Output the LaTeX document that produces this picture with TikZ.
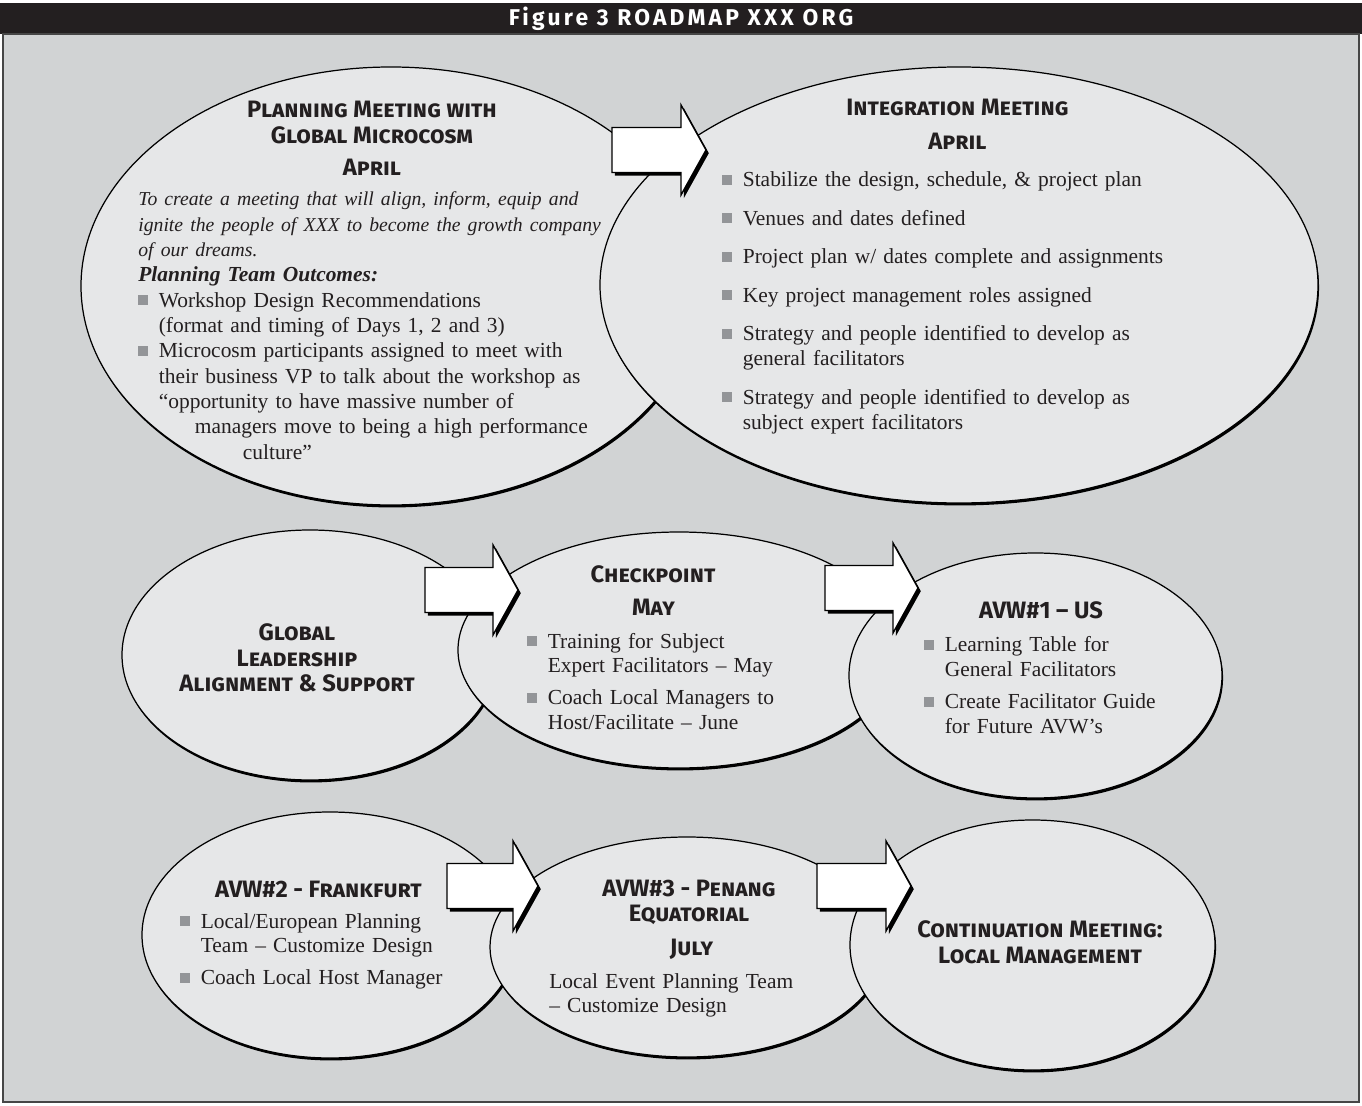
\documentclass[tikz,border=0pt]{standalone}
\usepackage{fontspec}
\setmainfont{Liberation Serif}
\newfontfamily\hdfont[Ligatures=TeX]{Fira Sans}
\usepackage{tikz}
\usetikzlibrary{shapes.geometric, shadows, calc}

\definecolor{panelgray}{HTML}{D1D3D4}
\definecolor{bubblefill}{HTML}{E6E7E8}
\definecolor{barblack}{HTML}{231F20}
\definecolor{bulgray}{HTML}{939598}
\definecolor{inkgray}{HTML}{231F20}

% square bullet and hanging item
\newcommand{\sq}{\textcolor{bulgray}{\rule[0.04cm]{0.2cm}{0.2cm}}}
\newcommand{\bitem}[1]{\noindent\hangindent=0.41cm\hangafter=1\makebox[0.41cm][l]{\sq}#1\par}

\begin{document}
\begin{tikzpicture}[
  bubble/.style = {ellipse, draw=black, line width=0.7pt, fill=bubblefill, inner sep=0pt,
                   drop shadow={shadow xshift=0.6pt, shadow yshift=-1.4pt, fill=black, opacity=1}},
  hd/.style     = {font=\hdfont\bfseries\scshape\fontsize{13.5}{14.6}\selectfont, text=inkgray, align=center, inner sep=0pt},
  body/.style   = {font=\fontsize{12.2}{14.2}\selectfont, text=inkgray, anchor=base west, inner sep=0pt, text width=11cm, align=left},
  blockarr/.style = {fill=white, draw=black, line width=0.8pt,
                   drop shadow={shadow xshift=1.6pt, shadow yshift=-1.8pt, fill=black, opacity=1}},
]
% block arrow: #1 tail coordinate, #2 tip coordinate
\newcommand{\blockarrow}[2]{%
  \path[blockarr] let \p1=(#1), \p2=(#2) in
    (\x1,\y1+0.45cm) -- (\x2-0.5cm,\y1+0.45cm) -- (\x2-0.5cm,\y1+0.9cm) -- (\x2,\y1)
    -- (\x2-0.5cm,\y1-0.9cm) -- (\x2-0.5cm,\y1-0.45cm) -- (\x1,\y1-0.45cm) -- cycle;}
\useasboundingbox (0,0) rectangle (27.24,-22.12);
\fill[white] (0,0) rectangle (27.24,-22.12);
\fill[barblack] (0,-0.06) rectangle (27.24,-0.68);
\draw[gray!55!black, line width=0.6pt, fill=panelgray] (0.06,-0.68) rectangle (27.18,-22.04);
\node[font=\hdfont\bfseries\fontsize{13}{14}\selectfont\addfontfeature{LetterSpace=14}, text=white] (title) at (13.62,-0.37) {Figure 3 ROADMAP XXX ORG};

% top row
\node[bubble, minimum width=12.4cm, minimum height=8.76cm] (plan) at (7.82,-5.72) {};
\node[hd] (planHd) at (7.44,-2.45) {Planning Meeting with\\Global Microcosm};
\node[hd] (planMon) at (7.44,-3.35) {April};
\node[body, font=\fontsize{12.2}{14.4}\selectfont] (planTxt) at (2.76,-4.12) {%
  {\itshape\fontsize{11.2}{14.4}\selectfont To create a meeting that will align, inform, equip and\newline
   ignite the people of XXX to become the growth company\newline
   of our dreams.\par}
  {\bfseries\itshape Planning Team Outcomes:\par}
  \bitem{Workshop Design Recommendations\newline (format and timing of Days 1, 2 and 3)}
  \bitem{Microcosm participants assigned to meet with\newline
    their business VP to talk about the workshop as\newline
    “opportunity to have massive number of\newline
    \hspace*{0.72cm}managers move to being a high performance\newline
    \hspace*{1.68cm}culture”}};

\node[bubble, minimum width=14.36cm, minimum height=8.72cm] (integ) at (19.18,-5.7) {};
\node[hd] (integHd) at (19.15,-2.15) {Integration Meeting};
\node[hd] (integMon) at (19.15,-2.83) {April};
\node[body] (integTxt) at (14.44,-3.74) {%
  \bitem{Stabilize the design, schedule, \& project plan}\vspace{0.27cm}
  \bitem{Venues and dates defined}\vspace{0.27cm}
  \bitem{Project plan w/ dates complete and assignments}\vspace{0.27cm}
  \bitem{Key project management roles assigned}\vspace{0.27cm}
  \bitem{Strategy and people identified to develop as\newline general facilitators}\vspace{0.27cm}
  \bitem{Strategy and people identified to develop as\newline subject expert facilitators}};

\coordinate (a1s) at (12.24,-3.0);
\coordinate (a1e) at (14.12,-3.0);
\blockarrow{a1s}{a1e}

% middle row
\node[bubble, minimum width=7.52cm, minimum height=5.0cm] (glob) at (6.2,-13.1) {};
\node[hd] (globHd) at (5.94,-13.16) {Global\\Leadership\\Alignment \& Support};

\node[bubble, minimum width=8.84cm, minimum height=4.72cm] (check) at (13.58,-13.0) {};
\node[hd] (checkHd) at (13.06,-11.48) {Checkpoint};
\node[hd] (checkMon) at (13.07,-12.15) {May};
\node[body] (checkTxt) at (10.54,-12.96) {%
  \bitem{Training for Subject\newline Expert Facilitators -- May}\vspace{0.14cm}
  \bitem{Coach Local Managers to\newline Host/Facilitate -- June}};

\node[bubble, minimum width=7.46cm, minimum height=4.9cm] (avwUS) at (20.71,-13.51) {};
\node[hd] (avwUSHd) at (20.82,-12.21) {AVW\#1 -- US};
\node[body] (avwUSTxt) at (18.48,-13.04) {%
  \bitem{Learning Table for\newline General Facilitators}\vspace{0.14cm}
  \bitem{Create Facilitator Guide\newline for Future AVW's}};

\coordinate (a2s) at (8.5,-11.8);
\coordinate (a2e) at (10.36,-11.8);
\blockarrow{a2s}{a2e}
\coordinate (a3s) at (16.5,-11.76);
\coordinate (a3e) at (18.36,-11.76);
\blockarrow{a3s}{a3e}

% bottom row
\node[bubble, minimum width=7.52cm, minimum height=4.92cm] (avwFra) at (6.6,-18.7) {};
\node[hd] (avwFraHd) at (6.37,-17.79) {AVW\#2 - Frankfurt};
\node[body] (avwFraTxt) at (3.6,-18.56) {%
  \bitem{Local/European Planning\newline Team -- Customize Design}\vspace{0.14cm}
  \bitem{Coach Local Host Manager}};

\node[bubble, minimum width=7.88cm, minimum height=4.4cm] (avwPen) at (13.74,-18.94) {};
\node[hd] (avwPenHd) at (13.78,-18.05) {AVW\#3 - Penang\\Equatorial};
\node[hd] (avwPenMon) at (13.83,-18.99) {July};
\node[body] (avwPenTxt) at (10.98,-19.76) {Local Event Planning Team\newline -- Customize Design};

\node[bubble, minimum width=7.3cm, minimum height=5.0cm] (contin) at (20.65,-18.9) {};
\node[hd] (continHd) at (20.8,-18.85) {Continuation Meeting:\\Local Management};

\coordinate (a4s) at (8.94,-17.72);
\coordinate (a4e) at (10.76,-17.72);
\blockarrow{a4s}{a4e}
\coordinate (a5s) at (16.34,-17.72);
\coordinate (a5e) at (18.22,-17.72);
\blockarrow{a5s}{a5e}
\end{tikzpicture}
\end{document}
